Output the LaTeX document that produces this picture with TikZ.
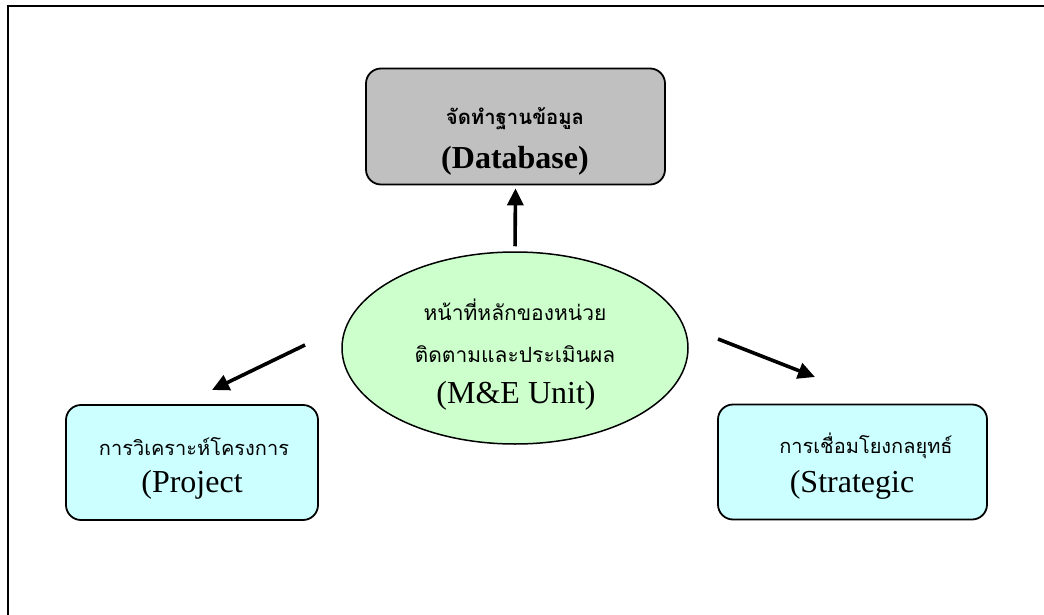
\documentclass[tikz,border=0pt]{standalone}
\usepackage{fontspec}
\setmainfont{Liberation Serif}
\newfontfamily\thai[Script=Thai]{Loma}
\usetikzlibrary{arrows.meta,shapes.geometric}
\definecolor{dbgray}{HTML}{C0C0C0}
\definecolor{megreen}{HTML}{CCFFCC}
\definecolor{boxcyan}{HTML}{CCFFFF}
\tikzset{
  box/.style={draw=black, line width=1.8pt, rounded corners=15pt, inner sep=0pt},
  ell/.style={ellipse, draw=black, line width=1.5pt, fill=megreen, inner sep=0pt},
  thaitxt/.style={anchor=base, inner sep=0pt, font=\thai\fontsize{21}{25}\selectfont},
  thaibox/.style={anchor=base, inner sep=0pt, font=\thai\fontsize{20}{24}\selectfont},
  thaibold/.style={anchor=base, inner sep=0pt, font=\thai\bfseries\fontsize{20.3}{24}\selectfont},
  latin/.style={anchor=base, inner sep=0pt, font=\fontsize{32}{36}\selectfont},
  latinbold/.style={anchor=base, inner sep=0pt, font=\bfseries\fontsize{32}{36}\selectfont},
  arr/.style={line width=3.6pt, -{Triangle[length=17pt,width=16pt]}}
}
\begin{document}
\begin{tikzpicture}[x=1pt,y=-1pt]
\useasboundingbox (0,0) rectangle (1044,615);
\draw[line width=2pt] (8,615) -- (8,6) -- (1044,6);
% shapes
\node[box, fill=dbgray, minimum width=299pt, minimum height=116pt] (db) at (515.5,126.5) {};
\node[ell, minimum width=346pt, minimum height=192pt] (me) at (515,348) {};
\node[box, fill=boxcyan, minimum width=252pt, minimum height=115pt] (proj) at (192,462.5) {};
\node[box, fill=boxcyan, minimum width=269pt, minimum height=115pt] (strat) at (852.5,462) {};
% texts
\node[thaibold] (dbt) at (515,125) {จัดทำฐานข้อมูล};
\node[latinbold] (dbe) at (515,168) {(Database)};
\node[thaitxt] (met1) at (515,320) {หน้าที่หลักของหน่วย};
\node[thaitxt] (met2) at (515,362) {ติดตามและประเมินผล};
\node[latin] (mee) at (516,403) {(M\&E Unit)};
\node[thaibox] (pt) at (194,455) {การวิเคราะห์โครงการ};
\node[latin] (pe) at (192,492) {(Project};
\node[thaibox] (st) at (866,453) {การเชื่อมโยงกลยุทธ์};
\node[latin] (se) at (852,492) {(Strategic};
% connectors
\coordinate (lt) at (305,345);
\coordinate (lh) at (212,390);
\coordinate (rt) at (718,339);
\coordinate (rh) at (815,377);
\draw[arr, shorten <=5pt, shorten >=3pt] (me.north) -- (db.south);
\draw[arr] (lt) -- (lh);
\draw[arr] (rt) -- (rh);
\end{tikzpicture}
\end{document}
